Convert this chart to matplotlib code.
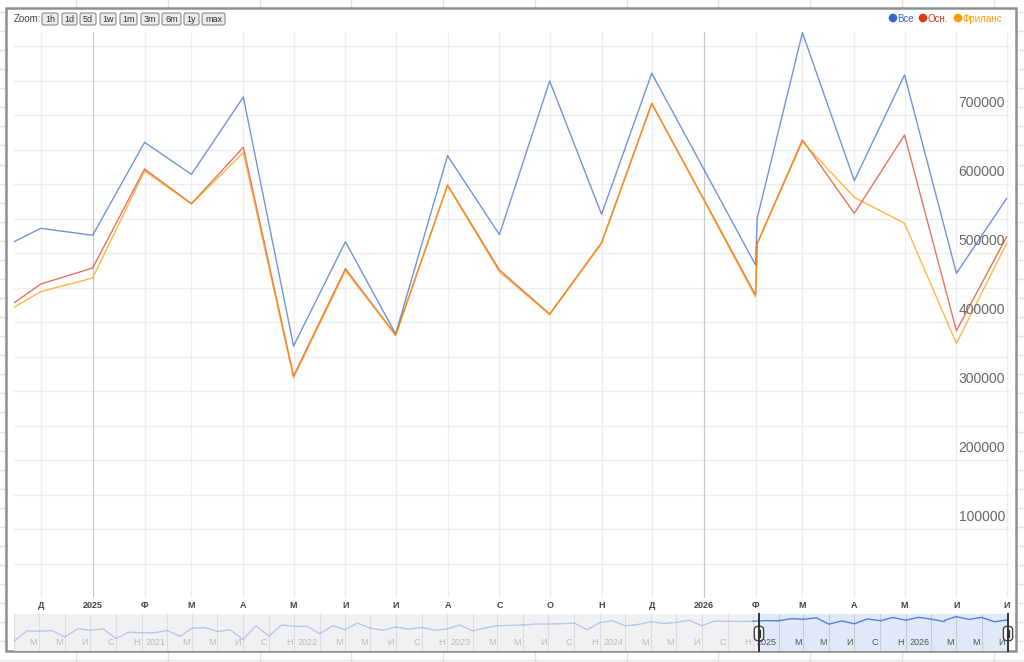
import matplotlib
matplotlib.use('Agg')
import matplotlib.pyplot as plt
import matplotlib.transforms as mtransforms
from matplotlib.patches import FancyBboxPatch, Rectangle, Circle
import numpy as np
import pandas as pd

plt.rcParams['font.family'] = ['Liberation Sans', 'DejaVu Sans']

# --- данные ---
dates = np.array(['2024-11-01', '2024-12-01', '2025-01-01', '2025-02-01', '2025-03-01',
                  '2025-04-01', '2025-05-01', '2025-06-01', '2025-07-01', '2025-08-01',
                  '2025-09-01', '2025-10-01', '2025-11-01', '2025-12-01', '2026-01-01',
                  '2026-02-01', '2026-02-02', '2026-03-01', '2026-04-01', '2026-05-01',
                  '2026-06-01', '2026-07-01'], dtype='datetime64[D]')
vse = [499300, 535800, 525700, 660400, 614000, 726100, 365200, 516400, 382600, 641000,
       526600, 749300, 556100, 760400, 621900, 482600, 550300, 819300, 604800, 758000,
       470600, 579200]
osn = [403900, 455000, 478300, 621700, 571500, 653200, 321700, 477300, 381200, 598600,
       475400, 411600, 515000, 717000, 578300, 439100, 514100, 663800, 557500, 671000,
       387400, 523600]
freelance = [401300, 444000, 463800, 618800, 571000, 645400, 319000, 474400, 380500, 597500,
             472500, 410500, 513500, 716000, 577000, 436000, 513000, 661300, 580700, 543000,
             369100, 514100]

# история "Все" для навигатора, янв 2020 - окт 2024 (тыс.)
hist_dates = pd.date_range('2020-01-01', '2024-10-01', freq='MS').values.astype('datetime64[D]')
hist_vse = np.array([59.5, 180, 173, 186, 93, 222, 192, 222, 79, 156, 147, 147,
                     186, 100, 236, 254, 168, 200, 71, 312, 103, 336, 291, 291,
                     132, 312, 206, 413, 236, 192, 273, 213, 262, 192, 222, 336,
                     180, 246, 312, 322, 336, 372, 372, 384, 413, 200, 440, 525,
                     303, 357, 473, 397, 440, 564, 312, 508, 508, 488]) * 1000

month_letters = ['', 'Ф', 'М', 'А', 'М', 'И', 'И', 'А', 'С', 'О', 'Н', 'Д']
series_names = ['Все', 'Осн.', 'Фриланс']
series_colors = ['#3366cc', '#dc3912', '#ff9900']
y_labels = [100000, 200000, 300000, 400000, 500000, 600000, 700000]

win_start = np.datetime64('2024-11-15')
win_end = np.datetime64('2026-07-03')
nav_start = np.datetime64('2020-01-01')

W, H = 1024, 662
fig = plt.figure(figsize=(W / 100, H / 100), dpi=100)


def px_box(x0, y0, x1, y1):
    return [x0 / W, 1 - y1 / H, (x1 - x0) / W, (y1 - y0) / H]


# фон: сетка таблицы и рамка
bg = fig.add_axes([0, 0, 1, 1], zorder=0)
bg.set_xlim(0, W)
bg.set_ylim(H, 0)
bg.axis('off')
for x in np.arange(76, W, 91.75):
    bg.plot([x, x], [0, H], color='#e1e2e3', lw=1, zorder=1)
for y in np.arange(12, H, 19.07):
    bg.plot([0, W], [y, y], color='#e1e2e3', lw=1, zorder=1)
bg.add_patch(Rectangle((6, 8), 1010, 643, facecolor='white', edgecolor='#8e8e8e',
                       lw=1.8, zorder=3))

# --- основной график ---
ax = fig.add_axes(px_box(14, 32, 1010, 598), zorder=2)
ax.patch.set_alpha(0)
for s in ax.spines.values():
    s.set_visible(False)
ax.set_xticks([])
ax.set_yticks([])
ax.set_xlim(win_start, win_end)
ax.set_ylim(0, 820300)

for v in range(50000, 820000, 50000):
    ax.axhline(v, color='#ececf2', lw=0.9, zorder=0)

grid_months = pd.date_range('2024-12-01', '2026-07-01', freq='MS')
xlab_tr = mtransforms.blended_transform_factory(ax.transData, ax.transAxes)
for m in grid_months:
    d = np.datetime64(m.date())
    year_line = m.month == 1
    ax.axvline(d, color='#c8c8c8' if year_line else '#ececf2', lw=0.9, zorder=0)
    lab = str(m.year) if year_line else month_letters[m.month - 1]
    ax.text(d, -0.0125, lab, transform=xlab_tr, ha='center', va='center',
            fontsize=6.5, weight='bold', color='#444444', clip_on=False)

ylab_tr = mtransforms.offset_copy(
    mtransforms.blended_transform_factory(ax.transAxes, ax.transData), fig=fig, y=12, units='dots')
for v in y_labels:
    ax.text(0.995, v, str(v), transform=ylab_tr, ha='right', va='center',
            fontsize=10, color='#666666')

for vals, col, a in zip([vse, osn, freelance], series_colors, [0.7, 0.7, 0.72]):
    ax.plot(dates, vals, color=col, alpha=a, lw=1.0)

# --- навигатор ---
nax = fig.add_axes(px_box(14, 614, 1008, 651), zorder=2)
nax.set_facecolor('#f1f1f3')
for s in nax.spines.values():
    s.set_visible(False)
nax.set_xlim(nav_start, win_end)
nax.set_yscale('log')
nax.set_ylim(21e3, 1.084e6)
nax.minorticks_off()
nax.set_xticks([])
nax.set_yticks([])
nax.axvspan(win_start, win_end, color='#e1e8f7', lw=0)

nav_lines = pd.date_range('2020-01-01', '2026-07-01', freq='2MS')
nlab_tr = mtransforms.offset_copy(
    mtransforms.blended_transform_factory(nax.transData, nax.transAxes), fig=fig, x=-2, units='dots')
for m in nav_lines:
    d = np.datetime64(m.date())
    inside = d > win_start
    nax.axvline(d, color='#c9cbd3' if inside else '#dcdce2', lw=0.8)
    if d == nav_start:
        continue
    lab = str(m.year) if m.month == 1 else month_letters[m.month - 1]
    nax.text(d, 0.22, lab, transform=nlab_tr, ha='right', va='center', fontsize=6.5,
             color='#555555' if inside else '#b8b8b8')

nav_dates = np.concatenate([hist_dates, dates[:1]])
nav_vals = np.concatenate([hist_vse, vse[:1]])
nax.plot(nav_dates, nav_vals, color='#3366cc', alpha=0.3, lw=1.0)
nax.plot(dates, vse, color='#3366cc', alpha=0.8, lw=1.0)

# --- передний план: кнопки, легенда, ручки ---
fg = fig.add_axes([0, 0, 1, 1], zorder=5)
fg.patch.set_alpha(0)
fg.set_xlim(0, W)
fg.set_ylim(H, 0)
fg.axis('off')

fg.text(14, 19, 'Zoom:', fontsize=7, color='#444444', ha='left', va='center')
buttons = [('1h', 42, 58), ('1d', 62, 77), ('5d', 80, 96), ('1w', 100, 116), ('1m', 120, 137),
           ('3m', 141, 159), ('6m', 162, 181), ('1y', 184, 199), ('max', 202, 225)]
for lab, x0, x1 in buttons:
    fg.add_patch(FancyBboxPatch((x0 + 1, 14), x1 - x0 - 2, 10, boxstyle='round,pad=1,rounding_size=2',
                                facecolor='#ececec', edgecolor='#8a8a8a', lw=0.8))
    fg.text((x0 + x1) / 2, 19, lab, fontsize=6.5, color='#333333', ha='center', va='center')

legend_x = [893, 923, 958]
for name, col, x in zip(series_names, series_colors, legend_x):
    fg.add_patch(Circle((x, 18), 3.6, color=col))
    fg.text(x + 4.5, 18.5, name, fontsize=7, color=col, ha='left', va='center')

for hx in [759, 1008]:
    fg.plot([hx, hx], [614, 651], color='#333333', lw=1.4)
    fg.add_patch(FancyBboxPatch((hx - 4, 627), 8, 13, boxstyle='round,pad=0.6,rounding_size=3.5',
                                facecolor='white', edgecolor='#444444', lw=1.0))
    fg.plot([hx - 1.2, hx - 1.2], [630, 637], color='#333333', lw=0.9)
    fg.plot([hx + 1.2, hx + 1.2], [630, 637], color='#333333', lw=0.9)

fig.savefig('out.png', dpi=100, facecolor='white')
